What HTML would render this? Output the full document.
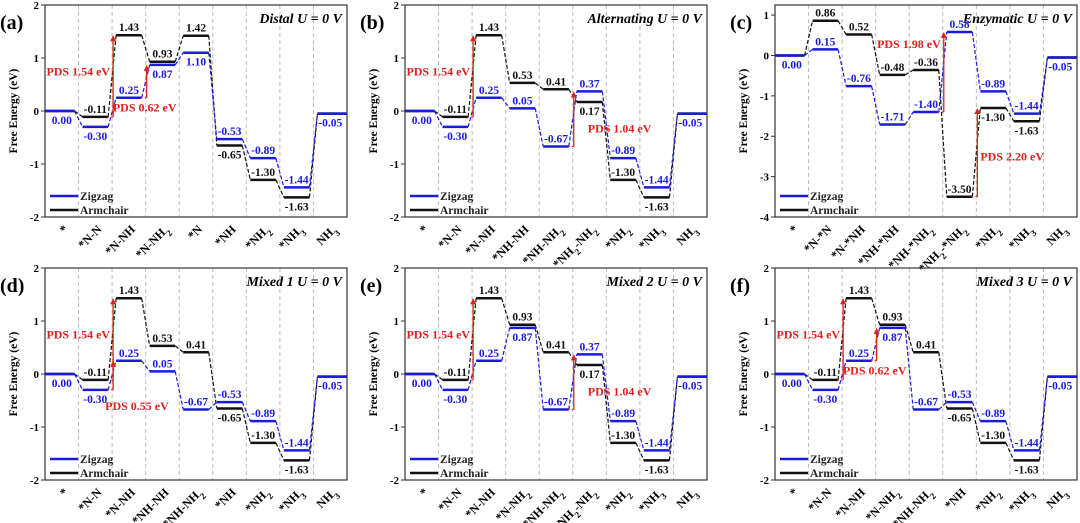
<!DOCTYPE html>
<html><head><meta charset="utf-8"><style>
body{margin:0;background:#fff}
svg{display:block;font-family:"Liberation Serif",serif;font-weight:bold}
</style></head><body>
<svg id="fig" width="1080" height="523" viewBox="0 0 1080 523"></svg>
<script>
const catsA=["*","*N-N","*N-NH","*N-NH2","*N","*NH","*NH2","*NH3","NH3"];
const catsB=["*","*N-N","*N-NH","*NH-NH","*NH-NH2","*NH2-NH2","*NH2","*NH3","NH3"];
const catsC=["*","*N-*N","*N-*NH","*NH-*NH","*NH-*NH2","*NH2-*NH2","*NH2","*NH3","NH3"];
const catsD=["*","*N-N","*N-NH","*NH-NH","*NH-NH2","*NH","*NH2","*NH3","NH3"];
const catsE=["*","*N-N","*N-NH","*N-NH2","*NH-NH2","*NH2-NH2","*NH2","*NH3","NH3"];
const catsF=["*","*N-N","*N-NH","*N-NH2","*NH-NH2","*NH","*NH2","*NH3","NH3"];
const zigA=[0,-0.30,0.25,0.87,1.10,-0.53,-0.89,-1.44,-0.05];
const armA=[0,-0.11,1.43,0.93,1.42,-0.65,-1.30,-1.63,-0.05];
const zigB=[0,-0.30,0.25,0.05,-0.67,0.37,-0.89,-1.44,-0.05];
const armB=[0,-0.11,1.43,0.53,0.41,0.17,-1.30,-1.63,-0.05];
const zigC=[0,0.15,-0.76,-1.71,-1.40,0.58,-0.89,-1.44,-0.05];
const armC=[0,0.86,0.52,-0.48,-0.36,-3.50,-1.30,-1.63,-0.05];
const zigD=[0,-0.30,0.25,0.05,-0.67,-0.53,-0.89,-1.44,-0.05];
const armD=[0,-0.11,1.43,0.53,0.41,-0.65,-1.30,-1.63,-0.05];
const zigE=[0,-0.30,0.25,0.87,-0.67,0.37,-0.89,-1.44,-0.05];
const armE=[0,-0.11,1.43,0.93,0.41,0.17,-1.30,-1.63,-0.05];
const zigF=[0,-0.30,0.25,0.87,-0.67,-0.53,-0.89,-1.44,-0.05];
const armF=[0,-0.11,1.43,0.93,0.41,-0.65,-1.30,-1.63,-0.05];
const ticksStd=[-2,-1,0,1,2];
const ticksC=[-4,-3,-2,-1,0,1];
// arrows: [column, from, to, label, label x offset, label y value, anchor]
const pdsA=[[2,-0.11,1.43,"PDS 1.54 eV",-3,0.75,"end"],[3,0.25,0.87,"PDS 0.62 eV",-2,0.07,"middle"]];
const pdsB=[[2,-0.11,1.43,"PDS 1.54 eV",-3,0.75,"end"],[5,-0.67,0.37,"PDS 1.04 eV",14,-0.33,"start"]];
const pdsC=[[5,-1.40,0.58,"PDS 1.98 eV",-3,0.28,"end"],[6,-3.50,-1.30,"PDS 2.20 eV",3,-2.5,"start"]];
const pdsD=[[2,-0.11,1.43,"PDS 1.54 eV",-3,0.75,"end"],[2,-0.30,0.25,"PDS 0.55 eV",-8,-0.6,"start"]];
const pdsE=[[2,-0.11,1.43,"PDS 1.54 eV",-3,0.75,"end"],[5,-0.67,0.37,"PDS 1.04 eV",14,-0.33,"start"]];
const pdsF=[[2,-0.11,1.43,"PDS 1.54 eV",-3,0.75,"end"],[3,0.25,0.87,"PDS 0.62 eV",-2,0.07,"middle"]];

const NS="http://www.w3.org/2000/svg";
const fig=document.getElementById('fig');
function mk(tag,attrs,parent,txt){const e=document.createElementNS(NS,tag);for(const k in attrs)e.setAttribute(k,attrs[k]);if(txt!==undefined)e.textContent=txt;parent.appendChild(e);return e;}
function fmt(v){return v.toFixed(2);}
function setSub(t,s){
  const parts=s.split(/(\d)/);
  parts.forEach(p=>{if(!p)return;const ts=document.createElementNS(NS,'tspan');if(/\d/.test(p)){ts.setAttribute('baseline-shift','sub');ts.setAttribute('font-size','9');}ts.textContent=p;t.appendChild(ts);});
}
function panel(id,letter,title,ox,oy,cats,zig,arm,ymin,ymax,ticks,pds){
  const W=302,H=212;
  const g=mk('g',{},fig);
  
  
  const y=v=>oy+(ymax-v)/(ymax-ymin)*H;
  const cw=W/cats.length;
  const cx=i=>ox+i*cw;
  for(let i=1;i<cats.length;i++){
    const l=mk('line',{x1:cx(i),x2:cx(i),y1:oy,y2:oy+H,stroke:'#bbb','stroke-width':1,'stroke-dasharray':'4,3'},g);
    
    
  }
  const fr=mk('rect',{x:ox,y:oy,width:W,height:H,fill:'none',stroke:'#333','stroke-width':1.2},g);
  
  
  ticks.forEach(t=>{
    mk('line',{x1:ox-4,x2:ox,y1:y(t),y2:y(t),stroke:'#333'},g);
    const tl=mk('text',{x:ox-6,y:y(t)+4,'text-anchor':'end','font-size':11},g,String(t));
    
    
  });
  const yt=mk('text',{x:0,y:0,transform:`translate(${ox-28},${oy+H/2}) rotate(-90)`,'text-anchor':'middle','font-size':11.5},g,'Free Energy (eV)');
  
  
  const lt=mk('text',{x:ox-45,y:oy+24,'font-size':20},g,letter);
  
  
  const tt=mk('text',{x:ox+W-5,y:oy+18,'text-anchor':'end','font-size':14,'font-style':'italic'},g,title);
  
  
  cats.forEach((c,i)=>{
    const t=mk('text',{transform:`translate(${cx(i)+cw/2+7},${oy+H+13}) rotate(-45)`,'text-anchor':'end','font-size':12},g);
    setSub(t,c);
    
    
  });
  [[arm,'#111','armchair'],[zig,'#1a1adf','zigzag']].forEach(([d,col,nm])=>{
    d.forEach((v,i)=>{
      const x1=cx(i)+(i==0?0:4),x2=cx(i)+cw-(i==cats.length-1?0:4);
      const b=mk('line',{x1:x1,x2:x2,y1:y(v),y2:y(v),stroke:col,'stroke-width':2.5},g);
      
      
      if(i<d.length-1){
        const c=mk('line',{x1:x2,y1:y(v),x2:cx(i+1)+4,y2:y(d[i+1]),stroke:col,'stroke-width':1.2,'stroke-dasharray':'4,2'},g);
        
        
      }
    });
  });
  for(let i=0;i<cats.length;i++){
    const zc=cx(i)+cw/2;
    const z=zig[i],a=arm[i];
    const put=(v,col,above,nm)=>{
      const t=mk('text',{x:zc,y:above?y(v)-4:y(v)+13,'text-anchor':'middle','font-size':11.5,fill:col},g,fmt(v));
      
      
    };
    if(Math.abs(z-a)<0.001){put(z,'#1a1adf',false,'zigzag');continue;}
    if(Math.abs(z-a)>0.35*(ymax-ymin)/4){put(z,'#1a1adf',true,'zigzag');put(a,'#111',true,'armchair');}
    else if(z>a){put(z,'#1a1adf',true,'zigzag');put(a,'#111',false,'armchair');}
    else{put(a,'#111',true,'armchair');put(z,'#1a1adf',false,'zigzag');}
  }
  pds.forEach(p=>{
    const [col,f,to,lab,dx,ly,anc]=p;
    const x=cx(col)+1;
    const a=mk('line',{x1:x,x2:x,y1:y(f),y2:y(to)+5,stroke:'#e02020','stroke-width':1.3},g);
    
    
    mk('polygon',{points:`${x-3},${y(to)+6} ${x+3},${y(to)+6} ${x},${y(to)}`,fill:'#e02020'},g);
    mk('line',{x1:x-6,x2:x,y1:y(f),y2:y(f),stroke:'#e02020','stroke-width':1,'stroke-dasharray':'2,2'},g);
    const t=mk('text',{x:x+dx,y:y(ly)+4,'text-anchor':anc,'font-size':12,fill:'#e02020'},g,lab);
    
    
  });
  [['Zigzag','#1a1adf',H-21],['Armchair','#111',H-7]].forEach(([n,c,ly])=>{
    const l=mk('line',{x1:ox+5,x2:ox+33,y1:oy+ly,y2:oy+ly,stroke:c,'stroke-width':2.5},g);
    
    
    const t=mk('text',{x:ox+35,y:oy+ly+4,'font-size':11.5,fill:'#222'},g,n);
    
    
  });
}
panel('a','(a)','Distal  U = 0 V',45,5,catsA,zigA,armA,-2,2,ticksStd,pdsA);
panel('b','(b)','Alternating  U = 0 V',405,5,catsB,zigB,armB,-2,2,ticksStd,pdsB);
panel('c','(c)','Enzymatic  U = 0 V',775,5,catsC,zigC,armC,-4,1.25,ticksC,pdsC);
panel('d','(d)','Mixed 1  U = 0 V',45,268,catsD,zigD,armD,-2,2,ticksStd,pdsD);
panel('e','(e)','Mixed 2  U = 0 V',405,268,catsE,zigE,armE,-2,2,ticksStd,pdsE);
panel('f','(f)','Mixed 3  U = 0 V',775,268,catsF,zigF,armF,-2,2,ticksStd,pdsF);
</script>
</body></html>
